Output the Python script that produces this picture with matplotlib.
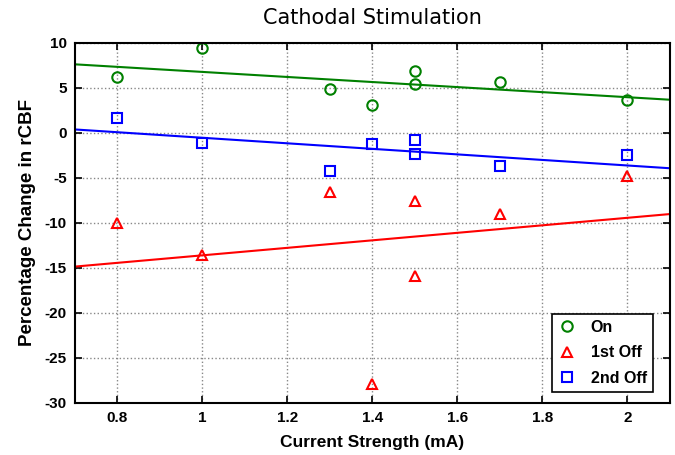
import numpy as np
import matplotlib
matplotlib.use("Agg")
import matplotlib.pyplot as plt

# === Current strength (mA) and % change in rCBF for each condition ===
current = np.array([0.8, 1.0, 1.3, 1.4, 1.5, 1.5, 1.7, 2.0])

on_vals = np.array([6.2, 9.4, 4.9, 3.1, 6.9, 5.4, 5.7, 3.7])
first_off = np.array([-10.0, -13.6, -6.6, -27.9, -7.6, -15.9, -9.0, -4.8])
second_off = np.array([1.7, -1.1, -4.2, -1.2, -0.8, -2.3, -3.7, -2.5])

xticks = [0.8, 1, 1.2, 1.4, 1.6, 1.8, 2]
xtick_labels = ["0.8", "1", "1.2", "1.4", "1.6", "1.8", "2"]
yticks = [-30, -25, -20, -15, -10, -5, 0, 5, 10]

plt.rcParams["font.family"] = ["Liberation Sans", "DejaVu Sans"]
plt.rcParams["axes.unicode_minus"] = False

fig = plt.figure(figsize=(6.75, 4.55), dpi=100)
ax = fig.add_axes([0.111, 0.1143, 0.8816, 0.7912])

series = [
    (on_vals, "o", "#008000", "On"),
    (first_off, "^", "#ff0000", "1st Off"),
    (second_off, "s", "#0000ff", "2nd Off"),
]

x_line = np.array([0.7, 2.1])
for vals, mk, col, lab in series:
    ax.plot(current, vals, linestyle="none", marker=mk, markersize=7.5,
            markerfacecolor="none", markeredgecolor=col, markeredgewidth=1.5,
            label=lab)
    # least-squares trend line
    slope, icpt = np.polyfit(current, vals, 1)
    ax.plot(x_line, slope * x_line + icpt, color=col, linewidth=1.5)

ax.set_xlim(0.7, 2.1)
ax.set_ylim(-30, 10)
ax.set_xticks(xticks)
ax.set_xticklabels(xtick_labels)
ax.set_yticks(yticks)

ax.grid(True, linestyle=":", color="#888888", linewidth=1)
ax.tick_params(direction="in", top=True, right=True, length=5, width=1.2,
               labelsize=11, pad=6)
for lbl in ax.get_xticklabels() + ax.get_yticklabels():
    lbl.set_fontweight("bold")
for sp in ax.spines.values():
    sp.set_linewidth(1.5)

ax.set_title("Cathodal Stimulation", fontsize=15, family="DejaVu Sans", pad=14)
ax.set_xlabel("Current Strength (mA)", fontsize=12.5, fontweight="bold", labelpad=7)
ax.set_ylabel("Percentage Change in rCBF", fontsize=13.5, fontweight="bold", labelpad=6)

leg = ax.legend(loc="lower right", bbox_to_anchor=(0.972, 0.03), borderaxespad=0,
                fancybox=False, edgecolor="black", framealpha=1, handlelength=1.0,
                labelspacing=0.65, handletextpad=1.0,
                prop={"weight": "bold", "size": 11.5})
leg.get_frame().set_linewidth(1.2)

fig.savefig("out.png", dpi=100)
